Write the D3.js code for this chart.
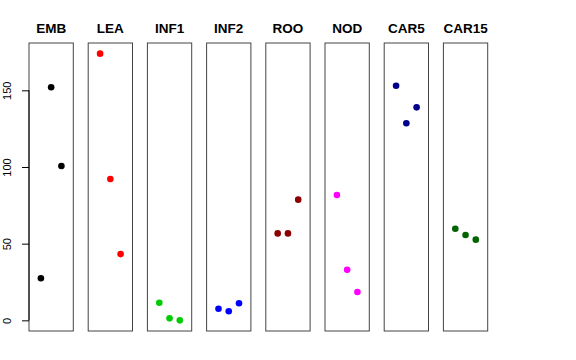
<!DOCTYPE html>
<html>
<head>
<meta charset="utf-8">
<script src="https://cdn.jsdelivr.net/npm/d3@7"></script>
<style>
  html, body { margin: 0; padding: 0; background: #fff; }
  svg { display: block; }
  text { font-family: "Liberation Sans", Arial, Helvetica, sans-serif; }
</style>
</head>
<body>
<svg id="chart" width="576" height="360"></svg>
<script>
// Data
const categories = ["EMB", "LEA", "INF1", "INF2", "ROO", "NOD", "CAR5", "CAR15"];
const colors = ["#000000", "#FF0000", "#00CD00", "#0000FF", "#8B0000", "#FF00FF", "#00008B", "#006400"];
const EMB   = [27.4, 152.0, 100.6];
const LEA   = [173.9, 92.2, 43.2];
const INF1  = [11.5, 1.3, 0.0];
const INF2  = [7.6, 5.9, 11.1];
const ROO   = [56.7, 56.7, 78.7];
const NOD   = [81.7, 33.0, 18.5];
const CAR5  = [153.0, 128.5, 138.9];
const CAR15 = [59.7, 55.6, 52.6];
const seriesValues = [EMB, LEA, INF1, INF2, ROO, NOD, CAR5, CAR15];
const yTicks = [0, 50, 100, 150];

const svg = d3.select("#chart");

const panelLeft = 29, panelStep = 59.2, panelW = 44.3;
const plotTop = 43, plotBottom = 331;

const all = seriesValues.flat();
const lo = d3.min(all), hi = d3.max(all);
const pad = (hi - lo) * 0.04;
const y = d3.scaleLinear().domain([lo - pad, hi + pad]).range([plotBottom, plotTop]);
const x = d3.scaleLinear().domain([-0.16, 4.16]).range([0, panelW]);

categories.forEach((cat, i) => {
  const g = svg.append("g").attr("transform", `translate(${panelLeft + i * panelStep},0)`);
  g.append("rect")
    .attr("x", 0).attr("y", plotTop)
    .attr("width", panelW).attr("height", plotBottom - plotTop)
    .attr("fill", "none").attr("stroke", "#444").attr("stroke-width", 1);
  g.selectAll("circle")
    .data(seriesValues[i])
    .enter().append("circle")
    .attr("cx", (d, j) => x(j + 1))
    .attr("cy", d => y(d))
    .attr("r", 3.3)
    .attr("fill", colors[i]);
  g.append("text")
    .attr("x", panelW / 2).attr("y", 33)
    .attr("text-anchor", "middle")
    .attr("font-weight", "bold")
    .attr("font-size", 13.5)
    .attr("fill", "#000")
    .text(cat);
});

// Y axis on first panel
const axisG = svg.append("g").attr("transform", `translate(${panelLeft},0)`);
const yAxis = d3.axisLeft(y).tickValues(yTicks).tickSize(7).tickPadding(0).tickFormat(d3.format("d"));
axisG.call(yAxis);
axisG.select(".domain").attr("d", `M0,${y(0)}V${y(150)}`).attr("stroke", "#000");
axisG.selectAll(".tick line").attr("stroke", "#000");
axisG.selectAll(".tick text")
  .attr("font-size", 11)
  .attr("font-family", "'Liberation Sans', Arial, sans-serif")
  .attr("fill", "#000")
  .attr("text-anchor", "middle")
  .attr("x", null).attr("dy", null)
  .attr("transform", "translate(-21,0) rotate(-90)")
  .attr("y", 0)
  .attr("dominant-baseline", "middle");
</script>
</body>
</html>
